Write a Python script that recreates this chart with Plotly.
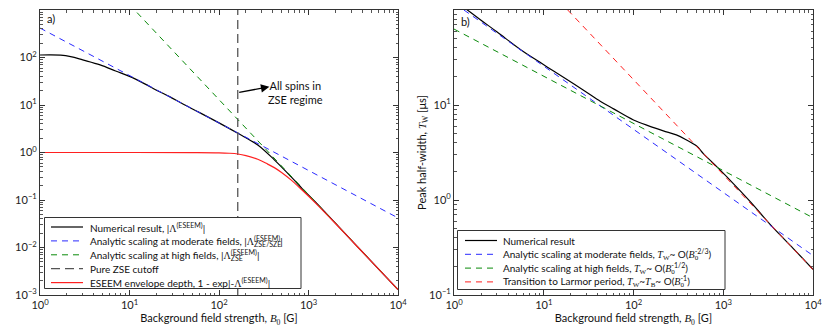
import plotly.graph_objects as go

# ---- panel a) : ESEEM depth vs field ----
b_num_a = [1, 1.3, 1.7, 2.2, 3, 4.7, 7, 10, 15, 20, 28, 40, 60, 100, 162, 271, 415, 637, 859,
           1200, 2000, 3500, 6000, 10000]
lam_num = [113, 114, 112, 104, 89, 70, 52, 40, 27.5, 20.5, 15, 10.4, 7.0, 4.2, 2.54, 1.44, 0.70,
           0.31, 0.17, 0.09, 0.0325, 0.0106, 0.0036, 0.0013]

b_mod_a = [1, 10000]
lam_mod = [417, 0.042]

b_high_a = [10, 10000]
lam_high = [1300, 0.0013]

b_cutoff = [162, 162]
lam_cutoff = [1e-3, 1e3]

b_depth = [1, 10, 50, 100, 130, 162, 200, 271, 350, 415, 500, 637, 859, 1200, 2000, 3500, 6000, 10000]
depth = [1, 1, 0.997, 0.985, 0.965, 0.93, 0.86, 0.72, 0.57, 0.48, 0.38, 0.265, 0.158, 0.086,
         0.032, 0.0105, 0.0036, 0.0013]

# ---- panel b) : peak half-width vs field ----
b_num_b = [1, 1.41, 2, 3, 5.53, 9.1, 13, 21.3, 30, 43, 60, 100, 150, 215, 300, 390, 505, 600, 776,
           1189, 2000, 3470, 6000, 10000]
tw_num = [127, 100, 78, 59, 38.2, 28.1, 22.6, 16.8, 13.6, 10.9, 9.1, 6.95, 6.0, 5.35, 4.85, 4.28,
          3.70, 3.08, 2.43, 1.62, 0.96, 0.53, 0.31, 0.186]

b_mod_b = [1.29, 10000]
tw_mod = [100, 0.26]

b_high_b = [1, 10000]
tw_high = [63, 0.65]

b_larmor = [18.5, 10000]
tw_larmor = [100, 0.185]

x_tickvals = [1, 10, 100, 1000, 10000]
x_ticktext = ['10<sup>0</sup>', '10<sup>1</sup>', '10<sup>2</sup>', '10<sup>3</sup>', '10<sup>4</sup>']
ya_tickvals = [1e-3, 1e-2, 1e-1, 1, 10, 100, 1000]
ya_ticktext = ['10<sup>−3</sup>', '10<sup>−2</sup>', '10<sup>−1</sup>', '10<sup>0</sup>',
               '10<sup>1</sup>', '10<sup>2</sup>', '10<sup>3</sup>']
yb_tickvals = [0.1, 1, 10, 100]
yb_ticktext = ['10<sup>−1</sup>', '10<sup>0</sup>', '10<sup>1</sup>', '10<sup>2</sup>']

# the page body keeps an 8px margin, so the figure is 8px smaller and offset
OFF = 8
W, H = 830 - OFF, 332 - OFF

def px(x):
    return (x - OFF) / W

def py(y):
    return 1 - (y - OFF) / H

def m(s):
    return '<span style="font-family:Liberation Serif">' + s + '</span>'

def hide(s):
    return '<span style="color:rgba(0,0,0,0)">' + s + '</span>'

LAM = m('Λ')
TW = m('<i>T</i><sub>W</sub>')
B0 = m('<i>B</i><sub>0</sub>')

BLACK = dict(color='black', width=1.2)
BLUE = dict(color='#2a2aff', width=1, dash='6px,5px')
GREEN = dict(color='#0a8a0a', width=1, dash='6px,5px')
GRAY = dict(color='#555555', width=1.3, dash='9px,5px')
RED = dict(color='#ff2020', width=1.2)
RED_DASH = dict(color='#ff2020', width=1, dash='6px,5px')

# legend labels: (text before a stacked index, superscript, subscript, text after)
legend_a = [
    (('Numerical result, |' + LAM, '(ESEEM)', None, '|'), BLACK),
    (('Analytic scaling at moderate fields, |' + LAM, '(ESEEM)', 'ZSE/SZE', '|'), BLUE),
    (('Analytic scaling at high fields, |' + LAM, '(ESEEM)', 'ZSE', '|'), GREEN),
    (('Pure ZSE cutoff', None, None, ''), GRAY),
    (('ESEEM envelope depth, 1 - exp|-' + LAM, '(ESEEM)', None, '|'), RED),
]
legend_b = [
    (('Numerical result', None, None, ''), BLACK),
    (('Analytic scaling at moderate fields, ' + TW + '~ O(' + m('<i>B</i>'), '-2/3', m('0'), ')'), BLUE),
    (('Analytic scaling at high fields, ' + TW + '~ O(' + m('<i>B</i>'), '-1/2', m('0'), ')'), GREEN),
    (('Transition to Larmor period, ' + TW + '~' + m('<i>T</i><sub>B</sub>') + '~ O(' + m('<i>B</i>'),
      '-1', m('0'), ')'), RED_DASH),
]

fig = go.Figure()

# panel a
fig.add_trace(go.Scatter(x=b_num_a, y=lam_num, mode='lines', line=dict(BLACK, shape='spline')))
fig.add_trace(go.Scatter(x=b_mod_a, y=lam_mod, mode='lines', line=BLUE))
fig.add_trace(go.Scatter(x=b_high_a, y=lam_high, mode='lines', line=GREEN))
fig.add_trace(go.Scatter(x=b_cutoff, y=lam_cutoff, mode='lines', line=GRAY))
fig.add_trace(go.Scatter(x=b_depth, y=depth, mode='lines', line=dict(RED, shape='spline')))

# panel b
fig.add_trace(go.Scatter(x=b_num_b, y=tw_num, mode='lines', xaxis='x2', yaxis='y2',
                         line=dict(BLACK, shape='spline')))
fig.add_trace(go.Scatter(x=b_mod_b, y=tw_mod, mode='lines', xaxis='x2', yaxis='y2', line=BLUE))
fig.add_trace(go.Scatter(x=b_high_b, y=tw_high, mode='lines', xaxis='x2', yaxis='y2', line=GREEN))
fig.add_trace(go.Scatter(x=b_larmor, y=tw_larmor, mode='lines', xaxis='x2', yaxis='y2', line=RED_DASH))

axis_common = dict(
    type='log', showline=True, linecolor='#333', linewidth=1, mirror='allticks',
    ticks='inside', ticklen=5, tickcolor='#333', showgrid=False, zeroline=False, automargin=False,
    tickfont=dict(size=11, color='#222'),
)
xtitle = 'Background field strength, ' + B0 + ' [G]'

# minor ticks at 2..9 per decade
minor_x = [k * 10 ** e for e in range(0, 4) for k in range(2, 10)]
minor_ya = [k * 10 ** e for e in range(-3, 3) for k in range(2, 10)]
minor_yb = [k * 10 ** e for e in range(-1, 2) for k in range(2, 10)]

def minor(vals):
    return dict(ticks='inside', ticklen=2.5, tickcolor='#555', showgrid=False,
                tickmode='array', tickvals=vals)

fig.update_layout(
    width=W, height=H,
    margin=dict(l=0, r=0, t=0, b=0),
    paper_bgcolor='white', plot_bgcolor='white',
    font=dict(family='Lato, Liberation Sans, sans-serif', size=11, color='#111'),
    showlegend=False,
    xaxis=dict(axis_common, domain=[px(40), px(398)], range=[0, 4], anchor='y',
               tickmode='array', tickvals=x_tickvals, ticktext=x_ticktext, minor=minor(minor_x),
               title=dict(text=xtitle, font=dict(size=11), standoff=3)),
    yaxis=dict(axis_common, domain=[py(295), py(10)], range=[-3, 3], anchor='x',
               tickmode='array', tickvals=ya_tickvals, ticktext=ya_ticktext, minor=minor(minor_ya)),
    xaxis2=dict(axis_common, domain=[px(454), px(813)], range=[0, 4], anchor='y2',
                tickmode='array', tickvals=x_tickvals, ticktext=x_ticktext, minor=minor(minor_x),
                title=dict(text=xtitle, font=dict(size=11), standoff=3)),
    yaxis2=dict(axis_common, domain=[py(295), py(10)], range=[-1, 2], anchor='x2',
                tickmode='array', tickvals=yb_tickvals, ticktext=yb_ticktext, minor=minor(minor_yb),
                title=dict(text='Peak half-width, ' + TW + ' [μs]', font=dict(size=11), standoff=0)),
)

# legends drawn as boxed keys; a subscript is laid under its superscript by a second,
# transparent-prefixed copy of the label
def draw_legend(entries, box, row0, step, line_x, text_x, size=10):
    x0, y0, x1, y1 = box
    fig.add_shape(type='rect', xref='paper', yref='paper', x0=px(x0), x1=px(x1),
                  y0=py(y1), y1=py(y0), line=dict(color='#333', width=1),
                  fillcolor='white', layer='above')
    for i, ((pre, sup, sub, post), style) in enumerate(entries):
        yy = py(row0 + i * step)
        fig.add_shape(type='line', xref='paper', yref='paper', x0=px(line_x[0]), x1=px(line_x[1]),
                      y0=yy, y1=yy, line=style, layer='above')
        main = pre + ('<sup>' + sup + '</sup>' if sup else '') + post
        if sub:
            main += hide('<sub>0</sub>')
            fig.add_annotation(text=hide(pre) + '<sub>' + sub + '</sub>' + hide('<sup>0</sup>'),
                               xref='paper', yref='paper', x=px(text_x), y=yy,
                               xanchor='left', yanchor='middle', showarrow=False, font=dict(size=size))
        fig.add_annotation(text=main, xref='paper', yref='paper', x=px(text_x), y=yy,
                           xanchor='left', yanchor='middle', showarrow=False, font=dict(size=size))

draw_legend(legend_a, (44.5, 217.5, 301, 288.5), 227, 13.9, (51, 83), 88)
draw_legend(legend_b, (457.5, 230.5, 725, 289.5), 240.5, 13.8, (465, 497), 501)

# panel labels
fig.add_annotation(text='a)', xref='paper', yref='paper', x=px(45), y=py(18),
                   xanchor='left', yanchor='middle', showarrow=False, font=dict(size=11))
fig.add_annotation(text='b)', xref='paper', yref='paper', x=px(459), y=py(22),
                   xanchor='left', yanchor='middle', showarrow=False, font=dict(size=11))

# ZSE regime note
fig.add_annotation(text='All spins in<br>ZSE regime', x=2.852, y=1.257, xref='x', yref='y',
                   showarrow=False, font=dict(size=11), align='center')
fig.add_annotation(text='', x=2.563, y=1.385, xref='x', yref='y', ax=-31.7, ay=6,
                   showarrow=True, arrowhead=2, arrowsize=1.3, arrowwidth=1.3, arrowcolor='black')

fig.write_html('out.html')
